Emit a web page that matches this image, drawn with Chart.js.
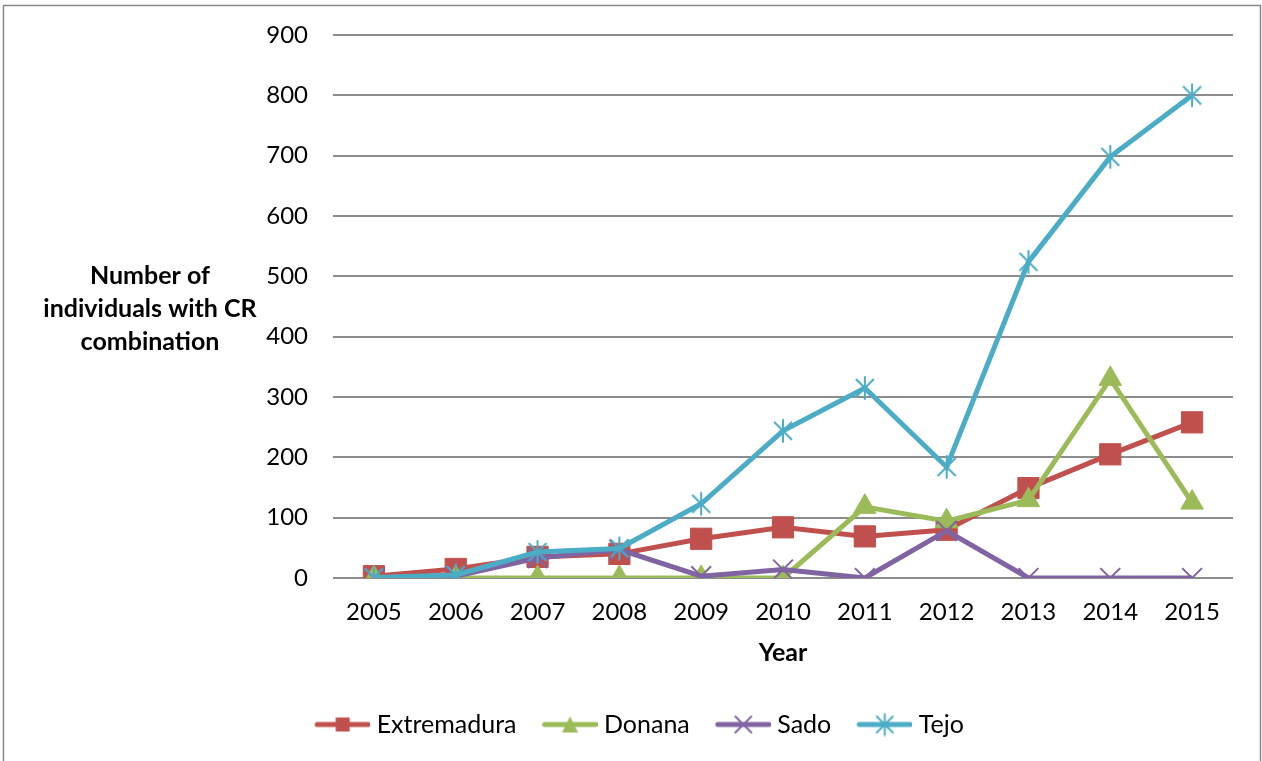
<!DOCTYPE html>
<html>
<head>
<meta charset="utf-8">
<script src="https://cdn.jsdelivr.net/npm/chart.js@4.4.1/dist/chart.umd.min.js"></script>
<style>
    html, body { margin: 0; padding: 0; background: #fff; }
    canvas { display: block; }
</style>
</head>
<body>
<canvas id="myChart" width="1262" height="761"></canvas>
<script>
const years = ['2005', '2006', '2007', '2008', '2009', '2010', '2011', '2012', '2013', '2014', '2015'];
const extremadura = [3, 15, 35, 40, 65, 84, 69, 80, 149, 205, 258];
const donana = [0, 0, 0, 0, 0, 0, 118, 94, 129, 330, 125];
const sado = [0, 3, 33, 47, 3, 14, 0, 78, 0, 0, 0];
const tejo = [1, 5, 43, 49, 123, 244, 315, 184, 524, 698, 800];
const seriesNames = ['Extremadura', 'Donana', 'Sado', 'Tejo'];
const yTitleLines = ['Number of', 'individuals with CR', 'combination'];

const FONT = 'Lato, "Open Sans", sans-serif';
const RED = '#C0504D';
const GREEN = '#9BBB59';
const PURPLE = '#8064A2';
const BLUE = '#4BACC6';

// draw one excel-like marker on a 2d context
function drawMarker(ctx, kind, color, x, y, s) {
    ctx.fillStyle = color;
    ctx.strokeStyle = color;
    ctx.lineWidth = 2;
    ctx.beginPath();
    if (kind === 'square') {
        ctx.fillRect(x - s, y - s, s * 2, s * 2);
    } else if (kind === 'triangle') {
        ctx.moveTo(x, y - s);
        ctx.lineTo(x + s, y + s);
        ctx.lineTo(x - s, y + s);
        ctx.closePath();
        ctx.fill();
    } else if (kind === 'x') {
        ctx.moveTo(x - s, y - s); ctx.lineTo(x + s, y + s);
        ctx.moveTo(x + s, y - s); ctx.lineTo(x - s, y + s);
        ctx.stroke();
    } else if (kind === 'star') {
        ctx.moveTo(x - s, y - s); ctx.lineTo(x + s, y + s);
        ctx.moveTo(x + s, y - s); ctx.lineTo(x - s, y + s);
        ctx.moveTo(x, y - s * 1.3); ctx.lineTo(x, y + s * 1.3);
        ctx.stroke();
    }
}

function starPoint() {
    const c = document.createElement('canvas');
    c.width = 26;
    c.height = 26;
    drawMarker(c.getContext('2d'), 'star', BLUE, 13, 13, 9);
    return c;
}

function legendIcon(kind, color) {
    const c = document.createElement('canvas');
    c.width = 73;
    c.height = 24;
    const ctx = c.getContext('2d');
    ctx.strokeStyle = color;
    ctx.lineWidth = 5;
    ctx.lineCap = 'round';
    ctx.beginPath();
    ctx.moveTo(20, 12);
    ctx.lineTo(71, 12);
    ctx.stroke();
    drawMarker(ctx, kind, color, 45.5, 12, kind === 'square' ? 7 : 8);
    return c;
}

const legendIcons = [
    legendIcon('square', RED),
    legendIcon('triangle', GREEN),
    legendIcon('x', PURPLE),
    legendIcon('star', BLUE)
];

const frame = {
    id: 'frame',
    beforeDraw(chart) {
        const ctx = chart.ctx;
        ctx.save();
        ctx.fillStyle = '#fff';
        ctx.fillRect(0, 0, chart.width, chart.height);
        ctx.strokeStyle = '#888';
        ctx.lineWidth = 1.5;
        ctx.strokeRect(3.5, 5.5, 1257, 800);
        ctx.restore();
    },
    afterDraw(chart) {
        const ctx = chart.ctx;
        ctx.save();
        ctx.fillStyle = '#000';
        ctx.font = 'bold 25px ' + FONT;
        ctx.textAlign = 'center';
        ctx.textBaseline = 'middle';
        yTitleLines.forEach((t, i) => ctx.fillText(t, 150, 276 + i * 33));
        ctx.restore();
    }
};

const myChart = document.getElementById('myChart');
let legend = {
    labels: years,
    datasets: [{
        label: seriesNames[0],
        data: extremadura,
        borderColor: RED,
        backgroundColor: RED,
        pointStyle: 'rect',
        pointRadius: 15,
        pointBorderWidth: 1,
        order: 4
    }, {
        label: seriesNames[1],
        data: donana,
        borderColor: GREEN,
        backgroundColor: GREEN,
        pointStyle: 'triangle',
        pointRadius: 13,
        pointBorderWidth: 1,
        order: 3
    }, {
        label: seriesNames[2],
        data: sado,
        borderColor: PURPLE,
        backgroundColor: PURPLE,
        pointStyle: 'crossRot',
        pointRadius: 14,
        pointBorderWidth: 2,
        order: 2
    }, {
        label: seriesNames[3],
        data: tejo,
        borderColor: BLUE,
        backgroundColor: BLUE,
        pointStyle: starPoint(),
        pointBorderWidth: 2,
        order: 1
    }]
};

let newChart = new Chart(myChart, {
    type: 'line',
    data: legend,
    plugins: [frame],
    options: {
        responsive: false,
        animation: false,
        layout: { padding: { left: 34, right: 29, top: 35, bottom: 14 } },
        elements: { line: { borderWidth: 5, tension: 0 } },
        plugins: {
            tooltip: { enabled: false },
            legend: {
                position: 'bottom',
                labels: {
                    usePointStyle: true,
                    pointStyleWidth: 61,
                    padding: 14,
                    color: '#000',
                    font: { family: FONT, size: 25 },
                    sort: (a, b) => a.datasetIndex - b.datasetIndex,
                    generateLabels(chart) {
                        const items = Chart.defaults.plugins.legend.labels.generateLabels(chart);
                        items.forEach(it => { it.pointStyle = legendIcons[it.datasetIndex]; });
                        return items;
                    }
                }
            }
        },
        scales: {
            x: {
                offset: true,
                grid: { display: false },
                border: { display: false },
                ticks: { color: '#000', font: { family: FONT, size: 24 }, padding: 12 },
                title: {
                    display: true,
                    text: 'Year',
                    color: '#000',
                    font: { family: FONT, size: 25, weight: 'bold' },
                    padding: { top: 0, bottom: 30 }
                },
                afterFit(scale) { scale.height = 120; }
            },
            y: {
                min: 0,
                max: 900,
                ticks: { stepSize: 100, color: '#000', font: { family: FONT, size: 24 }, padding: 25 },
                grid: { color: '#8c8c8c', lineWidth: 2, drawTicks: false },
                border: { display: false },
                afterFit(scale) {
                    scale.width = 299;
                    scale.paddingTop = 0;
                    scale.paddingBottom = 0;
                }
            }
        }
    }
});
</script>
</body>
</html>
